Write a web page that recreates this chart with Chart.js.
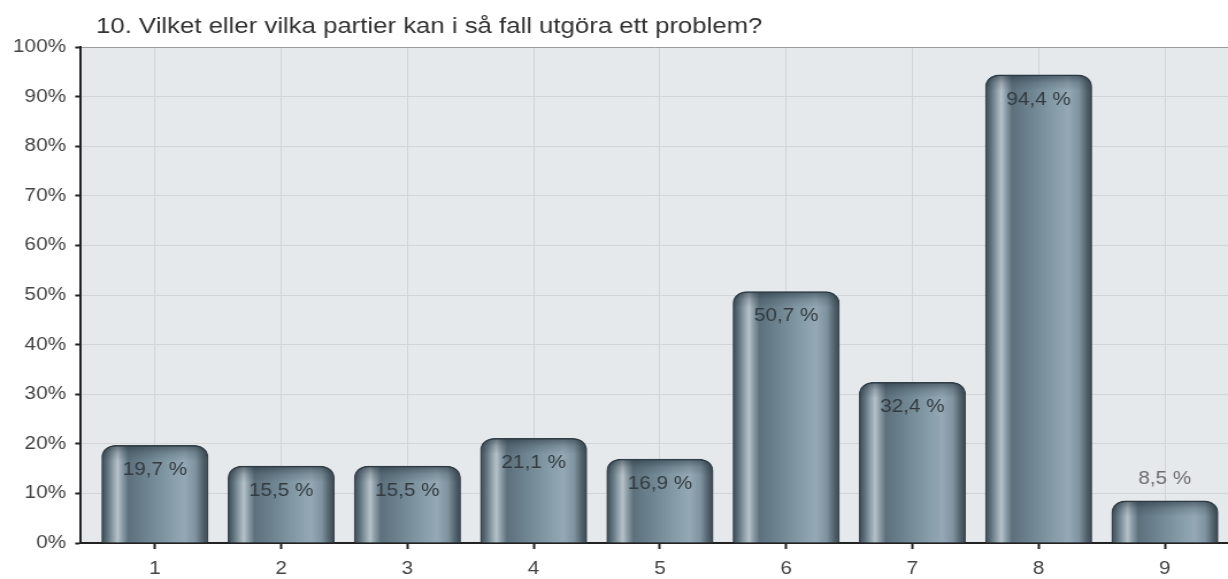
<!DOCTYPE html>
<html>
<head>
<meta charset="utf-8">
<script src="https://cdn.jsdelivr.net/npm/chart.js@4/dist/chart.umd.min.js"></script>
<style>
  body { margin: 0; background: #fff; }
</style>
</head>
<body>
<canvas id="chartCanvas" width="1068" height="579" style="display:block;width:1228px;height:579px"></canvas>
<script>
const chartTitle = '10. Vilket eller vilka partier kan i så fall utgöra ett problem?';
const categories = ['1', '2', '3', '4', '5', '6', '7', '8', '9'];
const percentages = [19.7, 15.5, 15.5, 21.1, 16.9, 50.7, 32.4, 94.4, 8.5];
const yTickValues = [0, 10, 20, 30, 40, 50, 60, 70, 80, 90, 100];

const BAR_W = 92.5;
Chart.defaults.font.family = '"Liberation Sans", Arial, sans-serif';

function barGradient(c) {
  if (c.type !== 'data' || !c.raw) return '#6f8591';
  const xs = c.chart.scales.x;
  const cx = xs ? xs.getPixelForValue(c.raw.x) : NaN;
  if (!isFinite(cx)) return '#6f8591';
  const g = c.chart.ctx.createLinearGradient(cx - BAR_W / 2, 0, cx + BAR_W / 2, 0);
  g.addColorStop(0.00, '#3c4a53');
  g.addColorStop(0.05, '#5d707b');
  g.addColorStop(0.11, '#93a3ac');
  g.addColorStop(0.15, '#b6c2c9');
  g.addColorStop(0.19, '#8e9fa9');
  g.addColorStop(0.25, '#5d717d');
  g.addColorStop(0.40, '#6b818d');
  g.addColorStop(0.60, '#8198a4');
  g.addColorStop(0.78, '#94a9b5');
  g.addColorStop(0.88, '#7f94a0');
  g.addColorStop(0.95, '#53646e');
  g.addColorStop(1.00, '#3a4750');
  return g;
}

// plot background
const plotBg = {
  id: 'plotBg',
  beforeDraw(chart) {
    const { ctx, chartArea: a } = chart;
    ctx.save();
    ctx.fillStyle = '#fff';
    ctx.fillRect(0, 0, chart.width, chart.height);
    ctx.fillStyle = '#e6e9ec';
    ctx.fillRect(a.left, a.top, a.right - a.left, a.bottom - a.top);
    ctx.restore();
  }
};

// title at top left
const titlePlugin = {
  id: 'titleText',
  afterDraw(chart) {
    const ctx = chart.ctx;
    ctx.save();
    ctx.font = '22.4px "Liberation Sans", Arial, sans-serif';
    ctx.fillStyle = '#333';
    ctx.textAlign = 'left';
    ctx.textBaseline = 'alphabetic';
    ctx.fillText(chartTitle, 83.5, 33);
    ctx.restore();
  }
};

// top shading of the bars + value labels
const barLabels = {
  id: 'barLabels',
  afterDatasetsDraw(chart) {
    const ctx = chart.ctx;
    const meta = chart.getDatasetMeta(0);
    meta.data.forEach((bar, i) => {
      const { x, y, base, width } = bar.getProps(['x', 'y', 'base', 'width'], true);
      ctx.save();
      ctx.beginPath();
      ctx.roundRect(x - width / 2, y, width, base - y, [12, 12, 0, 0]);
      ctx.clip();
      const g = ctx.createLinearGradient(0, y, 0, y + 16);
      g.addColorStop(0, 'rgba(30,44,54,0.55)');
      g.addColorStop(0.5, 'rgba(30,44,54,0.18)');
      g.addColorStop(1, 'rgba(30,44,54,0)');
      ctx.fillStyle = g;
      ctx.fillRect(x - width / 2, y, width, 16);
      ctx.restore();

      const v = percentages[i];
      const txt = v.toFixed(1).replace('.', ',') + ' %';
      ctx.save();
      ctx.font = '18px "Liberation Sans", Arial, sans-serif';
      ctx.textAlign = 'center';
      ctx.textBaseline = 'middle';
      if (v < 10) {
        ctx.fillStyle = '#6e6e6e';
        ctx.fillText(txt, x, y - 22);
      } else {
        ctx.fillStyle = '#333b40';
        ctx.fillText(txt, x, y + 25);
      }
      ctx.restore();
    });
  }
};

new Chart(document.getElementById('chartCanvas').getContext('2d'), {
  type: 'bar',
  data: {
    datasets: [{
      data: categories.map((c, i) => ({ x: i + 1, y: percentages[i] })),
      backgroundColor: barGradient,
      borderColor: '#3a4750',
      borderWidth: 1.5,
      borderSkipped: 'bottom',
      borderRadius: { topLeft: 12, topRight: 12, bottomLeft: 0, bottomRight: 0 },
      barThickness: BAR_W
    }]
  },
  options: {
    responsive: false,
    devicePixelRatio: 1,
    animation: false,
    layout: { padding: { top: 47, left: 0, right: 0, bottom: 0 } },
    plugins: {
      legend: { display: false },
      title: { display: false },
      tooltip: { enabled: false }
    },
    scales: {
      x: {
        type: 'linear',
        min: 0.414,
        max: 9.5,
        offset: false,
        afterBuildTicks: s => { s.ticks = categories.map((c, i) => ({ value: i + 1 })); },
        afterFit: s => { s.height = 36; },
        ticks: {
          callback: v => categories[v - 1],
          color: '#444',
          font: { size: 18 },
          padding: 9,
          maxRotation: 0,
          autoSkip: false
        },
        grid: {
          offset: false,
          color: '#d2d5d8',
          lineWidth: 1,
          tickLength: 6,
          tickColor: '#222',
          tickWidth: 2
        },
        border: { color: '#222', width: 2 }
      },
      y: {
        min: 0,
        max: 100,
        afterBuildTicks: s => { s.ticks = yTickValues.map(v => ({ value: v })); },
        afterFit: s => { s.width = 70.4; },
        ticks: {
          callback: v => v + '%',
          color: '#444',
          font: { size: 18 },
          padding: 8
        },
        grid: {
          color: c => (c.tick && c.tick.value === 100 ? '#9a9da0' : '#d2d5d8'),
          lineWidth: 1,
          tickLength: 5,
          tickColor: '#222',
          tickWidth: 2
        },
        border: { color: '#222', width: 2 }
      }
    }
  },
  plugins: [plotBg, barLabels, titlePlugin]
});
</script>
</body>
</html>
